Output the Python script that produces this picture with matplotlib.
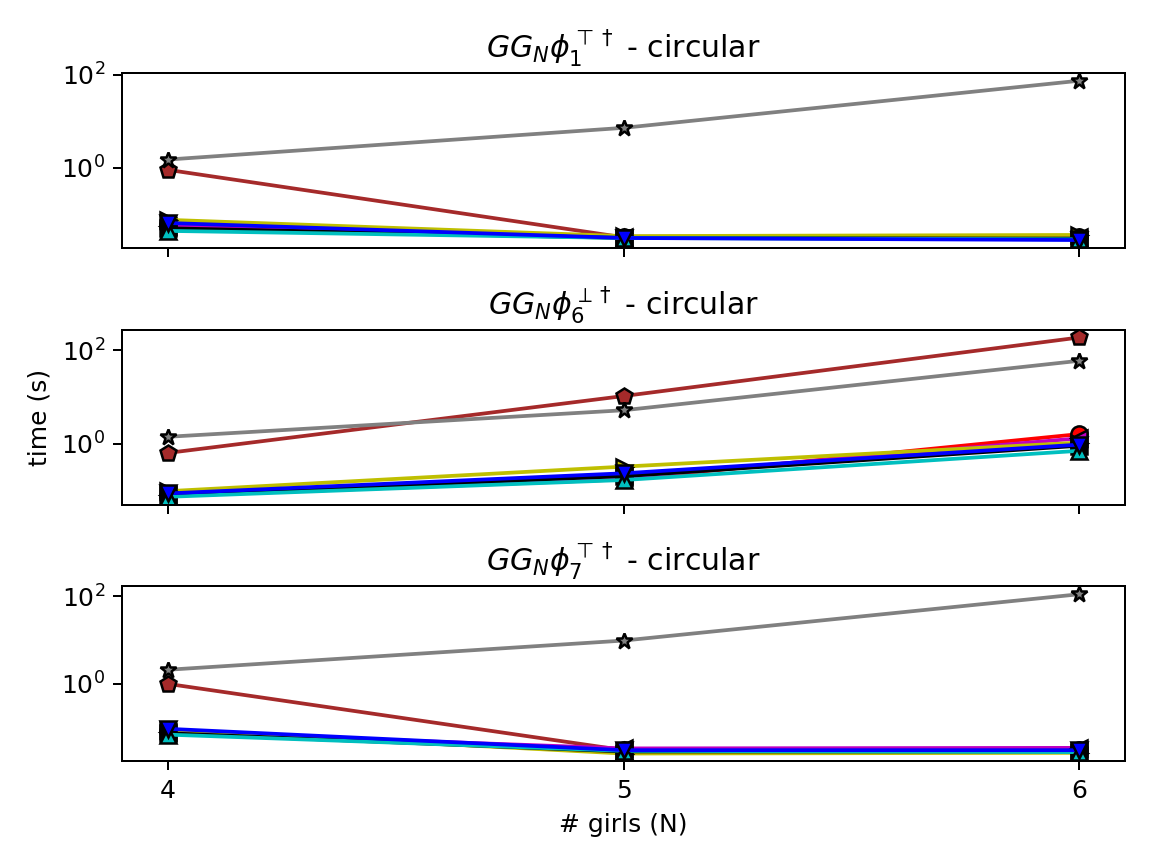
import numpy as np
import matplotlib
matplotlib.use("Agg")
import matplotlib.pyplot as plt

girls = [4, 5, 6]
titles = [r"$GG_N\phi_1^{\top\dagger}$ - circular",
          r"$GG_N\phi_6^{\perp\dagger}$ - circular",
          r"$GG_N\phi_7^{\top\dagger}$ - circular"]

colorlist = ['brown', 'gray', 'r', 'm', 'y', 'k', 'c', 'b']
markerlist = ['p', '*', 'o', '<', '>', 's', '^', 'v']

# times per panel, one row per method (same order as colours)
times1 = [[0.90, 0.032, 0.032],
          [1.5, 7.2, 74.0],
          [0.060, 0.032, 0.032],
          [0.057, 0.033, 0.033],
          [0.076, 0.034, 0.036],
          [0.050, 0.031, 0.030],
          [0.044, 0.031, 0.029],
          [0.065, 0.031, 0.028]]
times2 = [[0.63, 10.5, 190.0],
          [1.4, 5.2, 60.0],
          [0.075, 0.17, 1.6],
          [0.078, 0.19, 1.3],
          [0.095, 0.32, 1.05],
          [0.080, 0.20, 0.90],
          [0.072, 0.165, 0.70],
          [0.085, 0.23, 0.95]]
times3 = [[1.0, 0.031, 0.031],
          [2.1, 9.7, 110.0],
          [0.085, 0.031, 0.031],
          [0.080, 0.034, 0.035],
          [0.090, 0.026, 0.027],
          [0.075, 0.029, 0.029],
          [0.070, 0.030, 0.028],
          [0.095, 0.031, 0.031]]
Plots = [times1, times2, times3]

fig, axes = plt.subplots(3, 1, figsize=(6.4, 4.8), dpi=180, sharex=True)
for i, plot in enumerate(Plots):
    ax = axes[i]
    for j in range(len(plot)):
        ax.plot(girls, plot[j], color=colorlist[j], marker=markerlist[j],
                markeredgecolor='k', markersize=6.5, linewidth=1.5)
    ax.set_yscale('log')
    ax.set_title(titles[i])
    ax.set_xticks(girls)
axes[1].set_ylabel('time (s)')
axes[2].set_xlabel('# girls (N)')
fig.tight_layout()
fig.savefig('out.png')
